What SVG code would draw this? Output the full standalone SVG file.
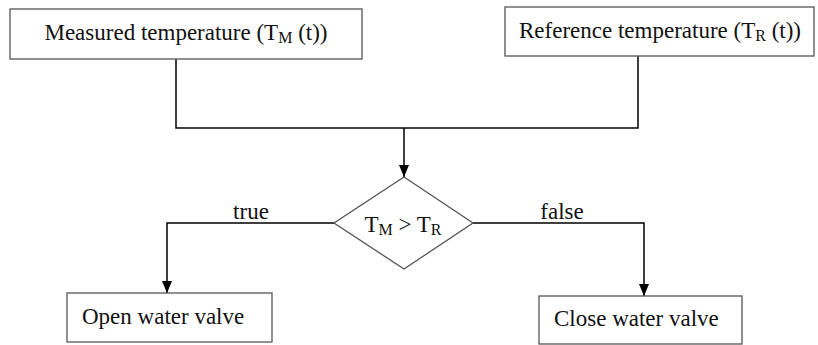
<svg xmlns="http://www.w3.org/2000/svg" width="818" height="345" viewBox="0 0 818 345">
<defs>
<marker id="ah" markerWidth="12" markerHeight="10" refX="12" refY="5" orient="auto" markerUnits="userSpaceOnUse" viewBox="0 0 12 10">
<path d="M0,0 L12,5 L0,10 Z" fill="#000"/>
</marker>
</defs>
<style>
.box{fill:#fff;stroke:#555;stroke-width:1.3}
.ln{fill:none;stroke:#000;stroke-width:1.5}
.t{font-family:"Liberation Serif","Times New Roman",serif;font-size:23px;fill:#111}
.sub{font-size:16px}
</style>
<rect width="818" height="345" fill="#fff"/>
<g id="connectors" class="t">
<path class="ln" d="M176,59 V128 H638 V56"/>
<path class="ln" d="M404,128 V177" marker-end="url(#ah)"/>
<path class="ln" d="M334,223 H167 V293" marker-end="url(#ah)"/>
<path class="ln" d="M473,223 H644 V296" marker-end="url(#ah)"/>
<text x="251" y="219" text-anchor="middle" font-family="Liberation Serif, serif">true</text>
<text x="562" y="219" text-anchor="middle" font-family="Liberation Serif, serif">false</text>
</g>
<g id="measured" class="t">
<rect class="box" x="10" y="9" width="352" height="50"/>
<text x="186" y="40" text-anchor="middle" font-family="Liberation Serif, serif">Measured temperature (T<tspan class="sub" dy="3">M</tspan><tspan dy="-3"> (t))</tspan></text>
</g>
<g id="reference" class="t">
<rect class="box" x="505" y="7" width="309" height="49"/>
<text x="660" y="38" text-anchor="middle" font-family="Liberation Serif, serif">Reference temperature (T<tspan class="sub" dy="3">R</tspan><tspan dy="-3"> (t))</tspan></text>
</g>
<g id="decision" class="t">
<polygon class="box" points="404,177 473,223 404,269 334,223"/>
<text x="403" y="232" text-anchor="middle" font-family="Liberation Serif, serif">T<tspan class="sub" dy="3">M</tspan><tspan dy="-3"> &gt; T</tspan><tspan class="sub" dy="3">R</tspan></text>
</g>
<g id="open" class="t">
<rect class="box" x="67" y="293" width="205" height="49"/>
<text x="82" y="324" font-family="Liberation Serif, serif">Open water valve</text>
</g>
<g id="close" class="t">
<rect class="box" x="539" y="296" width="203" height="48"/>
<text x="554" y="326" font-family="Liberation Serif, serif">Close water valve</text>
</g>
</svg>
